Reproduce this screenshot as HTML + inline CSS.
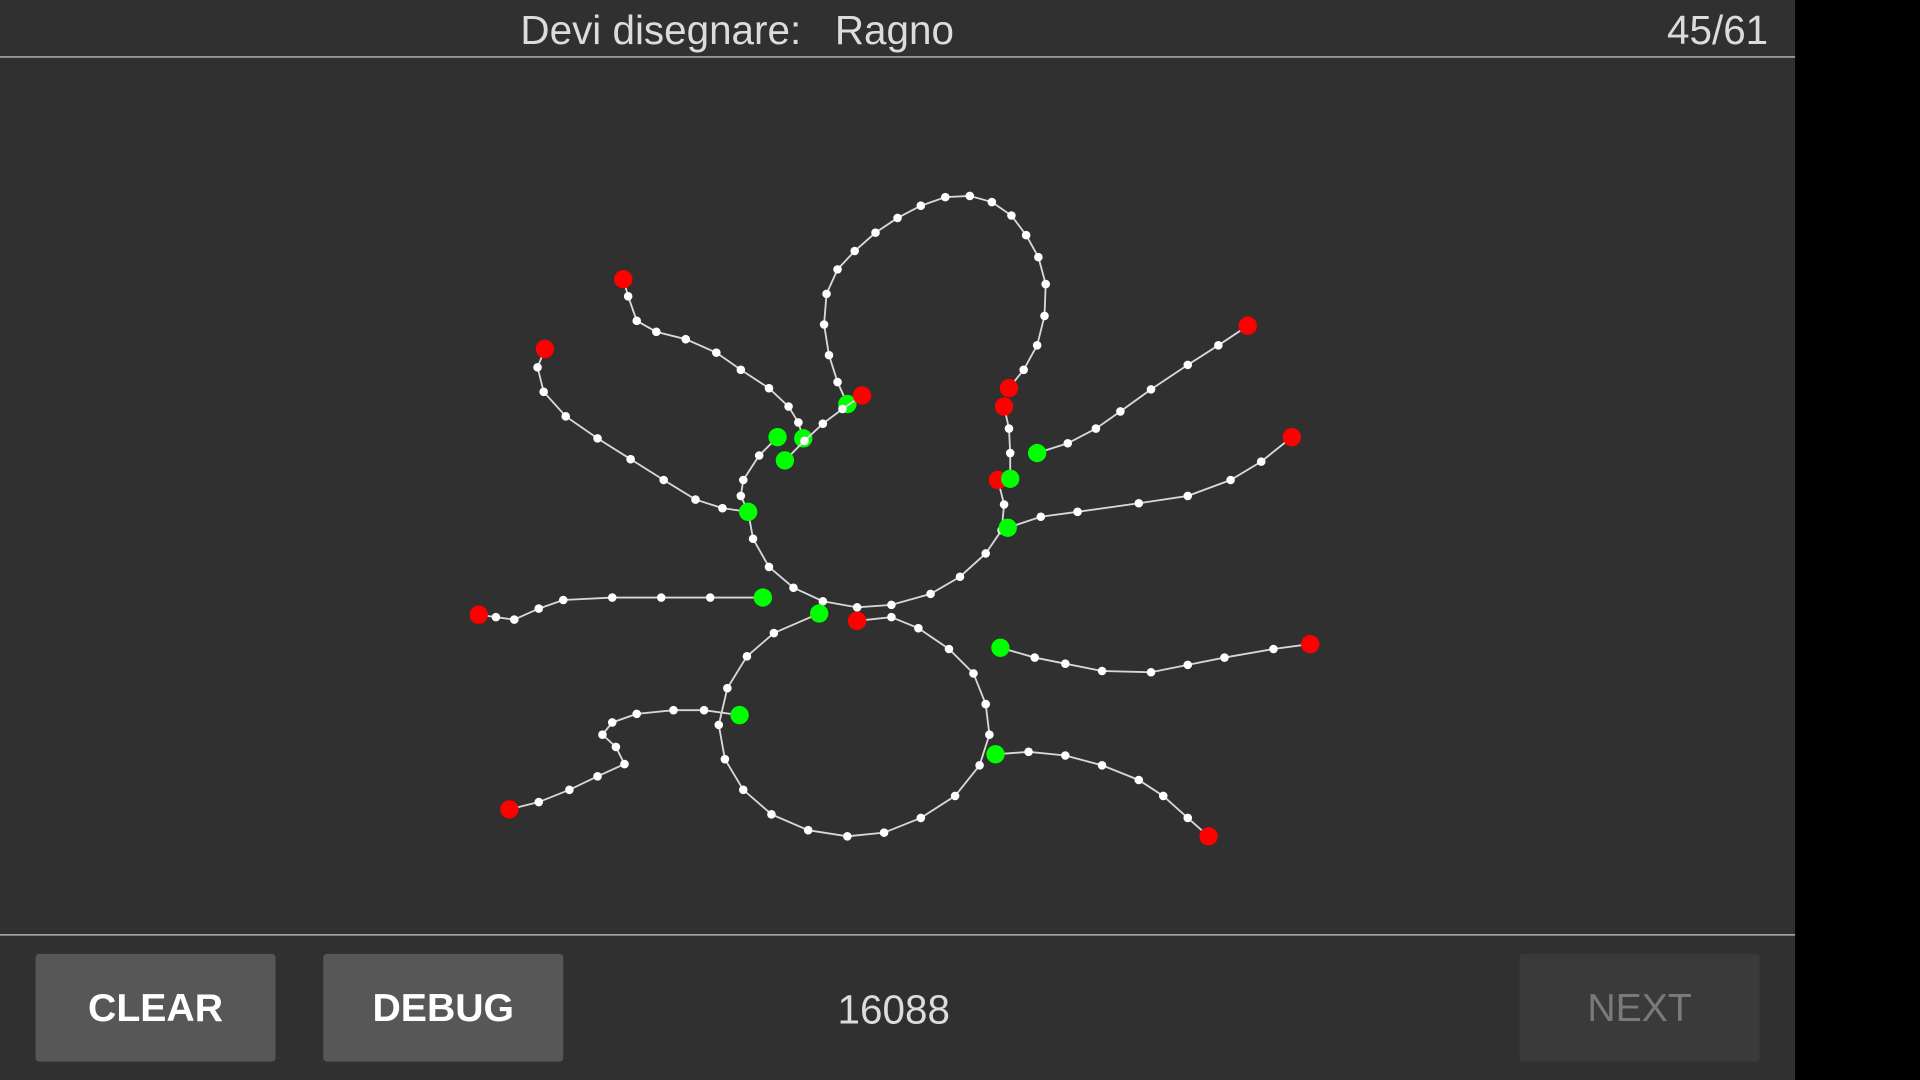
<!DOCTYPE html>
<html><head><meta charset="utf-8">
<style>
html,body{margin:0;padding:0;background:#000;overflow:hidden;}
#stage{position:absolute;left:0;top:0;width:1568px;height:882px;transform:scale(1.22449);transform-origin:0 0;background:#000;font-family:"Liberation Sans",sans-serif;}
#app{position:absolute;left:0;top:0;width:1466px;height:882px;background:#303030;}
.t{position:absolute;color:#dcdcdc;font-size:33px;white-space:pre;}
.btn{position:absolute;top:779px;width:196px;height:88px;background:#575757;border-radius:3px;color:#fff;font-size:32px;font-weight:bold;display:flex;align-items:center;justify-content:center;}
</style></head><body>
<div id="stage">
<div id="app">
  <div class="t" style="left:425px;top:6px;">Devi disegnare:   Ragno</div>
  <div class="t" style="right:22px;top:6px;">45/61</div>
  <div style="position:absolute;left:0;top:46px;width:1466px;height:1px;background:#ccc;"></div>
  <svg id="canvas" style="position:absolute;left:0;top:47px;" width="1466" height="716" viewBox="0 47 1466 716"></svg>
  <div style="position:absolute;left:0;top:763px;width:1466px;height:1px;background:#ccc;"></div>
  <div class="btn" style="left:29px;">CLEAR</div>
  <div class="btn" style="left:264px;">DEBUG</div>
  <div class="t" style="left:684px;top:806px;">16088</div>
  <div class="btn" style="left:1241px;background:#3a3a3a;color:#7a7a7a;font-weight:normal;">NEXT</div>
</div>
</div>
<script>
// each stroke: [x,y] points; first and last flagged with endpoint colors
const strokes = [
 [[692,330],[684,312],[677,290],[673,265],[675,240],[684,220],[698,205],[715,190],[733,178],[752,168],[772,161],[792,160],[810,165],[826,176],[838,192],[848,210],[854,232],[853,258],[847,282],[836,302],[824,317]],
 [[509,228],[513,242],[520,262],[536,271],[560,277],[585,288],[605,302],[628,317],[644,332],[652,345],[656,358]],
 [[704,323],[688,334],[672,346],[657,360],[641,376]],
 [[635,357],[620,372],[607,392],[605,405],[611,418],[615,440],[628,463],[648,480],[672,491],[700,496],[728,494],[760,485],[784,471],[805,452],[818,433],[820,412],[815,392]],
 [[820,332],[824,350],[825,370],[825,391]],
 [[445,285],[439,300],[444,320],[462,340],[488,358],[515,375],[542,392],[568,408],[590,415],[611,418]],
 [[1019,266],[995,282],[970,298],[940,318],[915,336],[895,350],[872,362],[847,370]],
 [[1055,357],[1030,377],[1005,392],[970,405],[930,411],[880,418],[850,422],[823,431]],
 [[391,502],[405,504],[420,506],[440,497],[460,490],[500,488],[540,488],[580,488],[623,488]],
 [[700,507],[728,504],[750,513],[775,530],[795,550],[805,575],[808,600],[800,625],[780,650],[752,668],[722,680],[692,683],[660,678],[630,665],[607,645],[592,620],[587,592],[594,562],[610,536],[632,517],[669,501]],
 [[416,661],[440,655],[465,645],[488,634],[510,624],[503,610],[492,600],[500,590],[520,583],[550,580],[575,580],[604,584]],
 [[817,529],[845,537],[870,542],[900,548],[940,549],[970,543],[1000,537],[1040,530],[1070,526]],
 [[813,616],[840,614],[870,617],[900,625],[930,637],[950,650],[970,668],[987,683]]
];
// endpoint color for start/end of each stroke: 'r' red, 'g' green
const startColors = ['g','r','r','g','r','r','r','r','r','r','r','g','g'];
const endColors   = ['r','g','g','r','g','g','g','g','g','g','g','r','r'];
const NS='http://www.w3.org/2000/svg';
const svg=document.getElementById('canvas');
const col={r:'#ff0000',g:'#00ff00'};
strokes.forEach((pts,i)=>{
  const g=document.createElementNS(NS,'g');
  
  
  const pl=document.createElementNS(NS,'polyline');
  pl.setAttribute('points',pts.map(p=>p.join(',')).join(' '));
  pl.setAttribute('fill','none');pl.setAttribute('stroke','#d8d8d8');pl.setAttribute('stroke-width','1.5');
  
  
  g.appendChild(pl);
  pts.forEach((p,j)=>{
    const c=document.createElementNS(NS,'circle');
    c.setAttribute('cx',p[0]);c.setAttribute('cy',p[1]);
    let fill='#fff',r=3.5;
    if(j===0){fill=col[startColors[i]];r=7.5;}
    else if(j===pts.length-1){fill=col[endColors[i]];r=7.5;}
    c.setAttribute('r',r);c.setAttribute('fill',fill);
    
    
    g.appendChild(c);
  });
  svg.appendChild(g);
});
</script>
</body></html>
